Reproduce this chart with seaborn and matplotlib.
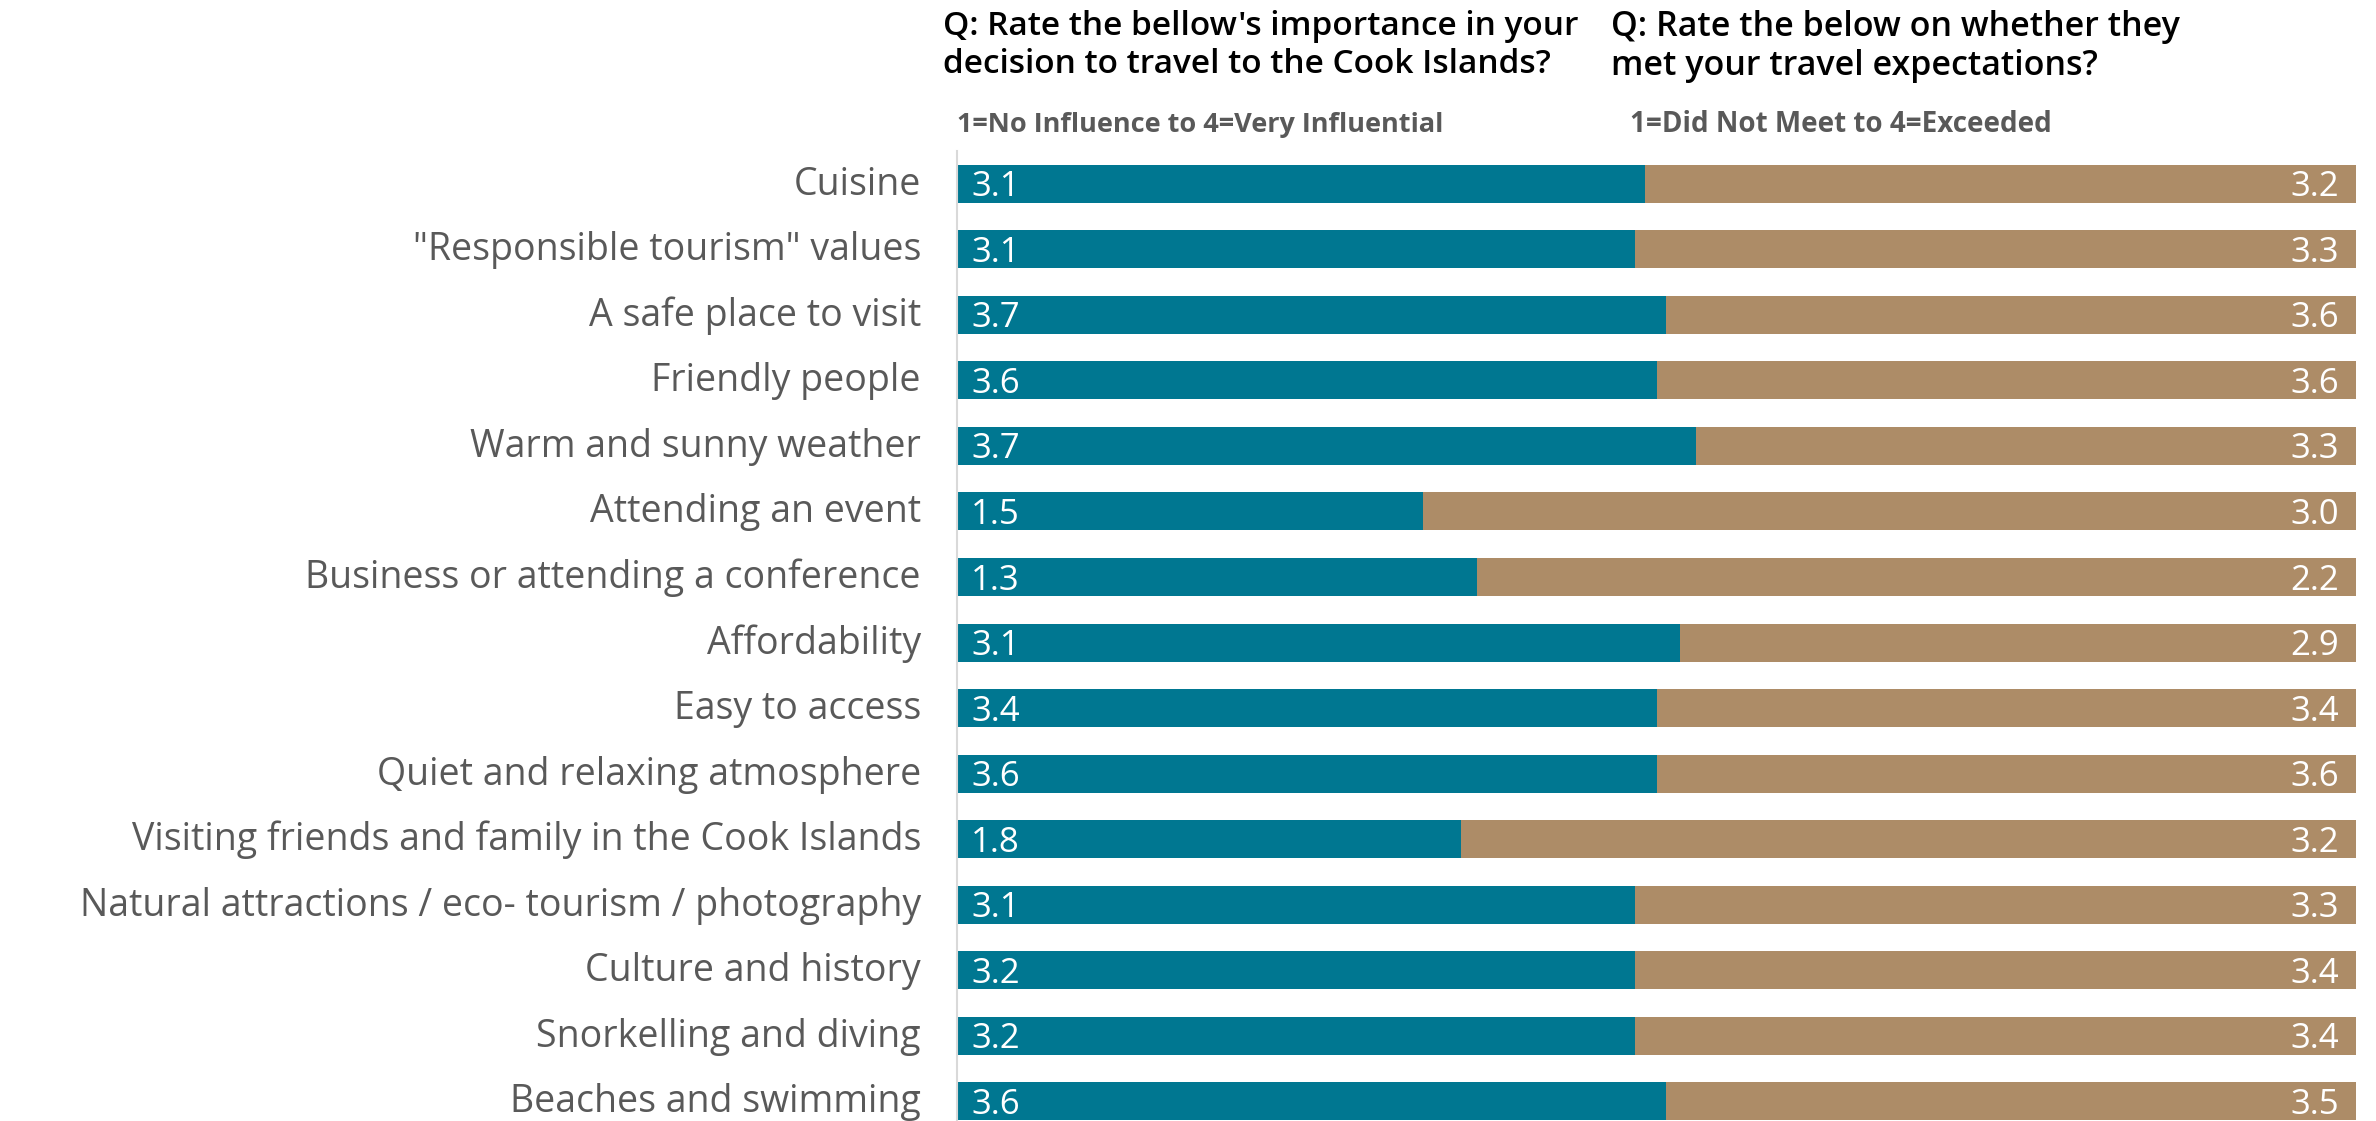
import matplotlib
matplotlib.use("Agg")
import matplotlib.pyplot as plt
from matplotlib.transforms import ScaledTranslation
import seaborn as sns
import pandas as pd

categories = [
    "Cuisine",
    "\"Responsible tourism\" values",
    "A safe place to visit",
    "Friendly people",
    "Warm and sunny weather",
    "Attending an event",
    "Business or attending a conference",
    "Affordability",
    "Easy to access",
    "Quiet and relaxing atmosphere",
    "Visiting friends and family in the Cook Islands",
    "Natural attractions / eco- tourism / photography",
    "Culture and history",
    "Snorkelling and diving",
    "Beaches and swimming",
]
importance = [3.1, 3.1, 3.7, 3.6, 3.7, 1.5, 1.3, 3.1, 3.4, 3.6, 1.8, 3.1, 3.2, 3.2, 3.6]
expectations = [3.2, 3.3, 3.6, 3.6, 3.3, 3.0, 2.2, 2.9, 3.4, 3.6, 3.2, 3.3, 3.4, 3.4, 3.5]

title_left = "Q: Rate the bellow's importance in your\ndecision to travel to the Cook Islands?"
title_right = "Q: Rate the below on whether they\nmet your travel expectations?"
scale_left = "1=No Influence to 4=Very Influential"
scale_right = "1=Did Not Meet to 4=Exceeded"

BLUE = "#007791"
TAN = "#AD8C67"
GREY_TEXT = "#595959"

df = pd.DataFrame({"category": categories, "importance": importance, "expectations": expectations})
df["total"] = df["importance"] + df["expectations"]
df["imp_share"] = df["importance"] / df["total"]
df["full"] = (df["importance"] + df["expectations"]) / df["total"]

sns.set_theme(style="white")
plt.rcParams["font.family"] = ["Open Sans", "DejaVu Sans"]

fig = plt.figure(figsize=(23.76, 11.21), dpi=100)
ax = fig.add_axes([957 / 2376, 0.0, (2356 - 957) / 2376, 1 - 151 / 1121])

bar_h = 0.58
sns.barplot(data=df, x="full", y="category", orient="h", color=TAN,
            width=bar_h, saturation=1, ax=ax, linewidth=0)
sns.barplot(data=df, x="imp_share", y="category", orient="h", color=BLUE,
            width=bar_h, saturation=1, ax=ax, linewidth=0)

ax.set_xlim(0, 1)
ax.set_ylim(14.3, -0.5)
ax.set_xlabel("")
ax.set_ylabel("")
ax.set_xticks([])
ax.tick_params(axis="y", length=0, pad=26, labelsize=27, labelcolor=GREY_TEXT)
# sit each category's baseline below its bar centre so the text looks centred
shift = ScaledTranslation(0, -11 / 100, fig.dpi_scale_trans)
for lab in ax.get_yticklabels():
    lab.set_verticalalignment("baseline")
    lab.set_transform(lab.get_transform() + shift)

for s in ["top", "right", "bottom"]:
    ax.spines[s].set_visible(False)
ax.spines["left"].set_color("#d9d9d9")
ax.spines["left"].set_linewidth(1.5)

num_shift = ScaledTranslation(0, -12.5 / 100, fig.dpi_scale_trans)
for i, row in df.iterrows():
    ax.text(0.010, i, f"{row['importance']:.1f}", color="white", fontsize=25,
            va="baseline", ha="left", transform=ax.transData + num_shift)
    ax.text(0.988, i, f"{row['expectations']:.1f}", color="white", fontsize=25,
            va="baseline", ha="right", transform=ax.transData + num_shift)

fig.text(943 / 2376, 1 - 10 / 1121, title_left, fontsize=24, fontweight="semibold",
         color="black", va="top", ha="left", linespacing=1.2)
fig.text(1611 / 2376, 1 - 10 / 1121, title_right, fontsize=24.5, fontweight="semibold",
         color="black", va="top", ha="left", linespacing=1.2)
fig.text(957 / 2376, 1 - 125 / 1121, scale_left, fontsize=19.5, fontweight="bold",
         color=GREY_TEXT, va="center", ha="left")
fig.text(1630 / 2376, 1 - 125 / 1121, scale_right, fontsize=20, fontweight="bold",
         color=GREY_TEXT, va="center", ha="left")

fig.savefig("out.png", dpi=100, facecolor="white")
